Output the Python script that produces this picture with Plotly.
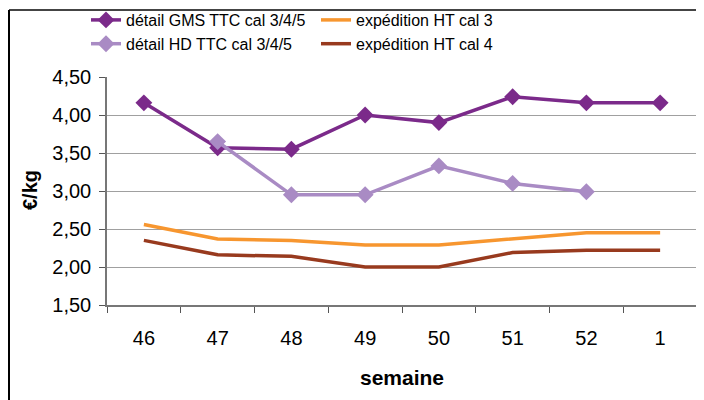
import plotly.graph_objects as go

semaines = ["46", "47", "48", "49", "50", "51", "52", "1"]
gms_ttc = [4.16, 3.57, 3.55, 4.00, 3.90, 4.24, 4.16, 4.16]
hd_ttc = [None, 3.65, 2.95, 2.95, 3.33, 3.10, 2.99, None]
ht_cal3 = [2.56, 2.37, 2.35, 2.29, 2.29, 2.37, 2.45, 2.45]
ht_cal4 = [2.35, 2.16, 2.14, 2.00, 2.00, 2.19, 2.22, 2.22]
y_ticks = [1.5, 2.0, 2.5, 3.0, 3.5, 4.0, 4.5]

fig = go.Figure()
fig.add_trace(go.Scatter(x=semaines, y=ht_cal3, mode="lines", name="expédition HT cal 3",
                         line=dict(color="#F7962F", width=3.5), legend="legend2"))
fig.add_trace(go.Scatter(x=semaines, y=ht_cal4, mode="lines", name="expédition HT cal 4",
                         line=dict(color="#983A1E", width=3.5), legend="legend2"))
fig.add_trace(go.Scatter(x=semaines, y=gms_ttc, mode="lines+markers", name="détail GMS TTC cal 3/4/5",
                         line=dict(color="#7B2A8A", width=3.5),
                         marker=dict(symbol="diamond", size=13, color="#7B2A8A"), legend="legend"))
fig.add_trace(go.Scatter(x=semaines, y=hd_ttc, mode="lines+markers", name="détail HD TTC cal 3/4/5",
                         line=dict(color="#A98BC4", width=3.5),
                         marker=dict(symbol="diamond", size=13, color="#A98BC4"), legend="legend"))

# page has an 8px body margin, so the figure is laid out in shifted coordinates
W, H = 696, 392
L, R, T, B = 99, 7, 69, 95
pw, ph = W - L - R, H - T - B

legend_font = dict(family="Liberation Sans, Arial, sans-serif", size=16, color="black")
leg_y = 1 + (T + 5) / ph
fig.update_layout(
    width=W, height=H,
    margin=dict(l=L, r=R, t=T, b=B, autoexpand=False),
    paper_bgcolor="white", plot_bgcolor="white",
    separators=", ",
    font=dict(family="Liberation Sans, Arial, sans-serif", size=20, color="black"),
    legend=dict(x=(78 - L) / pw, y=leg_y, xref="paper", yref="paper",
                xanchor="left", yanchor="top", font=legend_font, bgcolor="rgba(0,0,0,0)",
                traceorder="normal", itemwidth=30),
    legend2=dict(x=(308 - L) / pw, y=leg_y, xref="paper", yref="paper",
                 xanchor="left", yanchor="top", font=legend_font, bgcolor="rgba(0,0,0,0)",
                 traceorder="normal", itemwidth=30),
    xaxis=dict(type="category", range=[-0.5, 7.5], showgrid=False,
               showline=True, linecolor="#777777", linewidth=1.5,
               ticks="outside", ticklen=6, tickcolor="#555555", tickson="boundaries",
               ticklabelstandoff=14, tickangle=0, automargin=False,
               tickfont=dict(size=20),
               title=dict(text="<b>semaine</b>", font=dict(size=21), standoff=23)),
    yaxis=dict(range=[1.5, 4.5], tickvals=y_ticks, tickformat=".2f",
               showgrid=True, gridcolor="#A0A0A0", gridwidth=1,
               showline=True, linecolor="#777777", linewidth=1.5,
               ticks="outside", ticklen=6, tickcolor="#555555",
               ticklabelstandoff=4, zeroline=False, automargin=False,
               tickfont=dict(size=20)),
    annotations=[dict(text="<b>€/kg</b>", xref="paper", yref="paper",
                      x=(22 - L) / pw, y=(H - B - 182) / ph, textangle=-90,
                      showarrow=False, font=dict(size=20), xanchor="center", yanchor="middle")],
)

# outer frame (top and left edges visible)
fig.add_shape(type="line", xref="paper", yref="paper",
              x0=(1 - L) / pw, x1=1 + (R + 10) / pw, y0=1 + (T - 2) / ph, y1=1 + (T - 2) / ph,
              line=dict(color="#444444", width=2))
fig.add_shape(type="line", xref="paper", yref="paper",
              x0=(1 - L) / pw, x1=(1 - L) / pw, y0=1 + (T - 2) / ph, y1=-(B + 10) / ph,
              line=dict(color="black", width=2))

fig.write_html("out.html")
